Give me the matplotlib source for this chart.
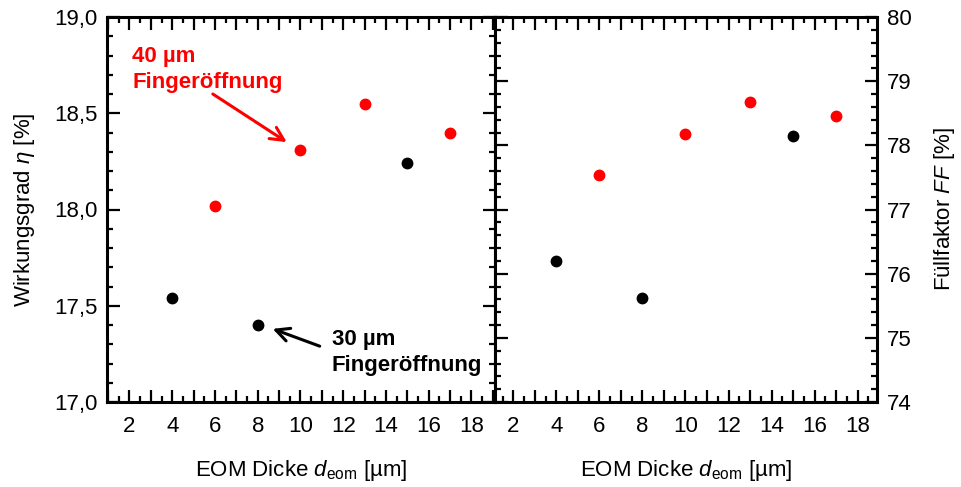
import matplotlib
matplotlib.use("Agg")
import matplotlib.pyplot as plt
from matplotlib.ticker import MultipleLocator, FuncFormatter

plt.rcParams.update({
    "font.family": "Liberation Sans",
    "font.size": 16,
    "mathtext.fontset": "custom",
    "mathtext.rm": "Liberation Sans",
    "mathtext.it": "Liberation Sans:italic",
    "mathtext.bf": "Liberation Sans:bold",
})

# EOM thickness [um]
d_30 = [4, 8, 15]
d_40 = [6, 10, 13, 17]
# efficiency eta [%]
eta_30 = [17.54, 17.40, 18.24]
eta_40 = [18.02, 18.31, 18.55, 18.40]
# fill factor FF [%]
ff_30 = [76.19, 75.62, 78.15]
ff_40 = [77.54, 78.18, 78.67, 78.46]

RED = "#FF0000"
INK = "#000000"

fig = plt.figure(figsize=(9.61, 4.87), dpi=100)
axL = fig.add_axes([107 / 961, 1 - 402 / 487, 388 / 961, 385 / 487])
axR = fig.add_axes([495 / 961, 1 - 402 / 487, 382 / 961, 385 / 487])


def style(ax, ymaj, ymin):
    for s in ax.spines.values():
        s.set_linewidth(2.2)
    ax.xaxis.set_major_locator(MultipleLocator(1))
    ax.xaxis.set_minor_locator(MultipleLocator(0.5))
    ax.xaxis.set_major_formatter(FuncFormatter(lambda v, p: f"{v:.0f}" if round(v) % 2 == 0 else ""))
    ax.yaxis.set_major_locator(MultipleLocator(ymaj))
    ax.yaxis.set_minor_locator(MultipleLocator(ymin))
    ax.tick_params(which="both", direction="in", top=True, bottom=True, left=True, right=True, width=1.6)
    ax.tick_params(which="major", length=9)
    ax.tick_params(which="minor", length=4.5)
    ax.tick_params(axis="x", pad=10)
    ax.set_xlabel(r"EOM Dicke $d_{\mathrm{eom}}$ [µm]", va="center")
    ax.xaxis.set_label_coords(0.5, -0.177)


ms = 7.5
axL.plot(d_30, eta_30, "o", color=INK, ms=ms)
axL.plot(d_40, eta_40, "o", color=RED, ms=ms)
axL.set_xlim(0.95, 19.1)
axL.set_ylim(17.0, 19.0)
style(axL, 0.5, 0.1)
axL.yaxis.set_major_formatter(FuncFormatter(lambda v, p: f"{v:.1f}".replace(".", ",")))
axL.tick_params(axis="y", pad=7)
axL.set_ylabel(r"Wirkungsgrad $\mathit{\eta}$ [%]", va="center")
axL.yaxis.set_label_coords(-0.213, 0.5)

# annotations
axL.text(2.12, 18.85, "40 µm\nFingeröffnung", color=RED, fontweight="bold",
         ha="left", va="top", linespacing=1.35)
axL.annotate("", xy=(9.36, 18.35), xytext=(5.9, 18.60),
             arrowprops=dict(arrowstyle="->", color=RED, lw=2.2, mutation_scale=24,
                             shrinkA=0, shrinkB=0))
axL.text(11.46, 17.38, "30 µm\nFingeröffnung", color=INK, fontweight="bold",
         ha="left", va="top", linespacing=1.35)
axL.annotate("", xy=(8.70, 17.38), xytext=(10.9, 17.29),
             arrowprops=dict(arrowstyle="->", color=INK, lw=2.2, mutation_scale=24,
                             shrinkA=0, shrinkB=0))

axR.plot(d_30, ff_30, "o", color=INK, ms=ms)
axR.plot(d_40, ff_40, "o", color=RED, ms=ms)
axR.set_xlim(1.15, 18.9)
axR.set_ylim(74, 80)
style(axR, 1, 0.2)
axR.tick_params(axis="y", labelleft=False, labelright=True, pad=7)
axR.yaxis.set_label_position("right")
axR.set_ylabel(r"Füllfaktor $\mathit{FF}$ [%]", rotation=90, va="center")
axR.yaxis.set_label_coords(1.178, 0.5)

fig.savefig("out.png", dpi=100)
